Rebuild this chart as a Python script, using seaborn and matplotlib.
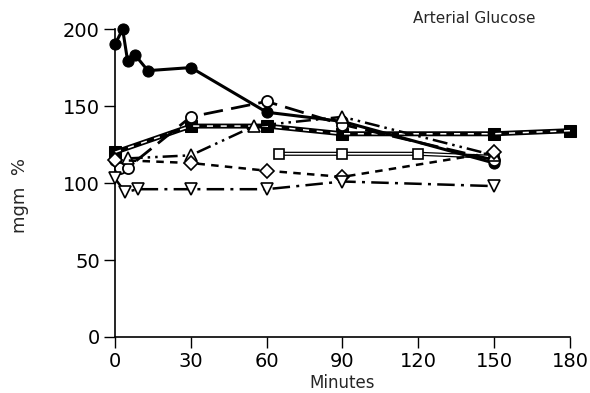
import matplotlib
matplotlib.use("Agg")
import matplotlib.pyplot as plt
import seaborn as sns

# Data
fc_x = [0, 3, 5, 8, 13, 30, 60, 90, 150]
fc_y = [190, 200, 179, 183, 173, 175, 146, 140, 113]

fs_x = [0, 30, 60, 90, 150, 180]
fs_y = [120, 137, 137, 132, 132, 134]

oc_x = [0, 2, 5, 30, 60, 90, 150]
oc_y = [115, 110, 110, 143, 153, 138, 115]

ot_x = [5, 30, 55, 90, 150]
ot_y = [116, 118, 137, 143, 118]

od_x = [0, 30, 60, 90, 150]
od_y = [115, 113, 108, 104, 120]

os_x = [65, 90, 120, 150]
os_y = [119, 119, 119, 117]

dt_x = [0, 4, 9, 30, 60, 90, 150]
dt_y = [103, 94, 96, 96, 96, 101, 98]

x_ticks = [0, 30, 60, 90, 120, 150, 180]
y_ticks = [0, 50, 100, 150, 200]
title = "Arterial Glucose"
xlabel = "Minutes"
ylabel = "mgm  %"

sns.set_style("ticks")
plt.rcParams['font.family'] = ['DejaVu Sans']

fig = plt.figure(figsize=(5.9, 3.93), dpi=100)
ax = fig.add_axes([0.195, 0.1425, 0.771, 0.7835])

common = dict(ax=ax, color="black", clip_on=False, legend=False)

# filled circles, solid
sns.lineplot(x=fc_x, y=fc_y, marker="o", markersize=8, linewidth=2.2,
             linestyle="-", markerfacecolor="black", markeredgecolor="black", zorder=5, **common)

# filled squares, thick double line with white dashes
sns.lineplot(x=fs_x, y=fs_y, marker="s", markersize=8, linewidth=3.6,
             linestyle="-", markerfacecolor="black", markeredgecolor="black", zorder=4, **common)
sns.lineplot(x=fs_x, y=fs_y, linewidth=1.1, linestyle=(0, (4, 5)),
             ax=ax, color="white", clip_on=False, legend=False, zorder=4.5)

# open circles, long dashes
sns.lineplot(x=oc_x, y=oc_y, marker="o", markersize=8, linewidth=2.0,
             linestyle=(0, (7, 3)), markerfacecolor="white", markeredgecolor="black",
             markeredgewidth=1.3, zorder=6, **common)

# open triangles, dash-dot-dot
sns.lineplot(x=ot_x, y=ot_y, marker="^", markersize=8, linewidth=1.8,
             linestyle=(0, (6, 2, 1, 2, 1, 2)), markerfacecolor="white", markeredgecolor="black",
             markeredgewidth=1.2, zorder=6, **common)

# diamonds, short dashes
sns.lineplot(x=od_x, y=od_y, marker="D", markersize=7, linewidth=1.8,
             linestyle=(0, (3, 2.5)), markerfacecolor="white", markeredgecolor="black",
             markeredgewidth=1.2, zorder=6, **common)

# open squares, thin double line
sns.lineplot(x=os_x, y=os_y, linewidth=3.0, linestyle="-", zorder=3, **common)
sns.lineplot(x=os_x, y=os_y, marker="s", markersize=7, linewidth=1.2, linestyle="-",
             ax=ax, color="white", clip_on=False, legend=False, markerfacecolor="white",
             markeredgecolor="black", markeredgewidth=1.2, zorder=3.5)

# down triangles, dash-dot
sns.lineplot(x=dt_x, y=dt_y, marker="v", markersize=8, linewidth=1.8,
             linestyle=(0, (7, 2.5, 1.2, 2.5)), markerfacecolor="white", markeredgecolor="black",
             markeredgewidth=1.2, zorder=6, **common)

ax.set_xlim(0, 180)
ax.set_ylim(0, 200)
ax.set_xticks(x_ticks)
ax.set_yticks(y_ticks)
ax.tick_params(axis="both", direction="out", length=8, width=1, labelsize=14, pad=3, colors="black")
sns.despine(ax=ax)
for s in ("left", "bottom"):
    ax.spines[s].set_linewidth(1.2)
    ax.spines[s].set_color("black")
ax.set_xlabel(xlabel, fontsize=12, labelpad=2)
ax.set_ylabel(ylabel, fontsize=13)
ax.yaxis.set_label_coords(-0.19, 0.46)
ax.text(142, 207, title, fontsize=11, ha="center", va="center")

fig.savefig("out.png", dpi=100)
